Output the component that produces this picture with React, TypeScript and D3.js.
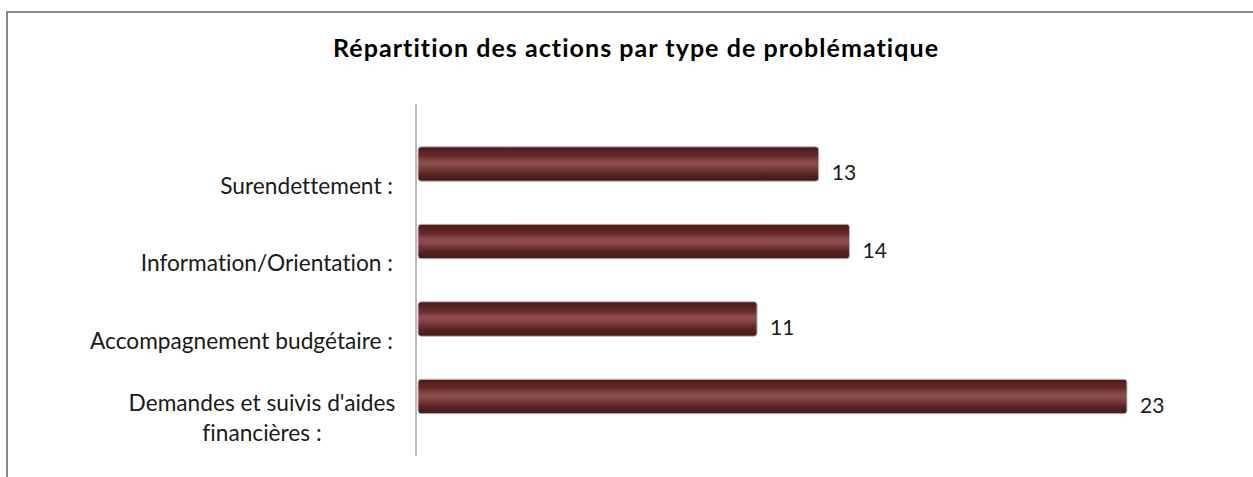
import React from "react";
import * as d3 from "d3";

const categories: string[][] = [
  ["Surendettement :"],
  ["Information/Orientation :"],
  ["Accompagnement budgétaire :"],
  ["Demandes et suivis d'aides", "financières :"],
];
const values: number[] = [13, 14, 11, 23];
const title = "Répartition des actions par type de problématique";

const W = 1253;
const H = 477;
const FONT = "Lato, 'Open Sans', sans-serif";
const noLig = { fontVariantLigatures: "none", fontFeatureSettings: "'liga' 0" } as React.CSSProperties;

export default function App() {
  const x = d3.scaleLinear().domain([0, 23]).range([418, 1127]);
  const keys = categories.map((c) => c.join(" "));
  const y = d3
    .scaleBand<string>()
    .domain(keys)
    .range([125.25, 435.25])
    .paddingInner(0.555)
    .paddingOuter(0.2775);
  const bw = y.bandwidth();

  return (
    <svg
      width={W}
      height={H}
      style={{ position: "absolute", left: 0, top: 0, background: "#fff" }}
    >
      <defs>
        <linearGradient id="cyl" x1="0" y1="0" x2="0" y2="1">
          <stop offset="0%" stopColor="#4a1b1b" />
          <stop offset="25%" stopColor="#652929" />
          <stop offset="45%" stopColor="#8c4d4d" />
          <stop offset="55%" stopColor="#874747" />
          <stop offset="78%" stopColor="#5c2424" />
          <stop offset="100%" stopColor="#441818" />
        </linearGradient>
      </defs>
      <rect x={7} y={12} width={1300} height={600} fill="none" stroke="#888" strokeWidth={2} />
      <text
        x={635.5}
        y={51}
        textAnchor="middle"
        dominantBaseline="middle"
        fontFamily={FONT}
        fontWeight="bold"
        fontSize={25}
        textLength={605}
        lengthAdjust="spacing"
        fill="#000"
        style={noLig}
      >
        {title}
      </text>
      <line x1={416} x2={416} y1={104} y2={456} stroke="#a6a6a6" strokeWidth={1.5} />
      {keys.map((k, i) => {
        const y0 = y(k)!;
        const cy = y0 + bw / 2;
        const lines = categories[i];
        const lh = 30;
        const start = cy + 24 - ((lines.length - 1) * lh) / 2;
        const multi = lines.length > 1;
        return (
          <g key={k}>
            <rect
              x={x(0)}
              y={y0}
              width={x(values[i]) - x(0)}
              height={bw}
              rx={3}
              fill="url(#cyl)"
              stroke="#c9bcbc"
              strokeWidth={1}
            />
            <text
              x={x(values[i]) + 13}
              y={cy + 11}
              dominantBaseline="middle"
              fontFamily={FONT}
              fontSize={21}
              fill="#1a1a1a"
            >
              {values[i]}
            </text>
            {lines.map((l, j) => (
              <text
                key={j}
                x={multi ? 262 : 393}
                y={start + j * lh}
                textAnchor={multi ? "middle" : "end"}
                dominantBaseline="middle"
                fontFamily={FONT}
                fontSize={22.7}
                fill="#1a1a1a"
                style={noLig}
              >
                {l}
              </text>
            ))}
          </g>
        );
      })}
    </svg>
  );
}
